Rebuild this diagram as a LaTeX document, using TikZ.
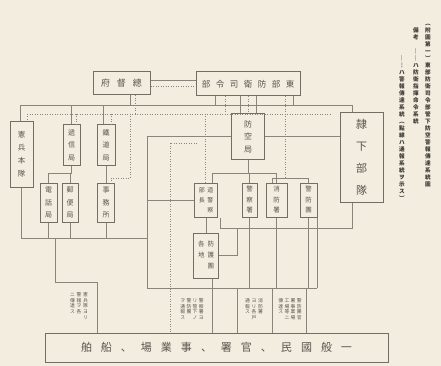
\documentclass[tikz,border=0pt]{standalone}
\usepackage{fontspec}
\newfontfamily\jp{Noto Sans CJK JP}
\usetikzlibrary{calc}
\definecolor{bg}{RGB}{242,237,223}
\definecolor{ln}{RGB}{138,133,122}
\definecolor{bx}{RGB}{115,110,100}
\definecolor{tx}{RGB}{90,85,78}
\definecolor{cp}{RGB}{60,57,52}
\makeatletter
\newcommand\hsp[2]{\def\hs@f{1}\@tfor\hs@c:=#2\do{\ifx\hs@f\@empty\kern#1\fi\let\hs@f\@empty\hs@c}}
\newcommand\vstk[2]{\vtop{\offinterlineskip\def\vs@f{1}\@tfor\vs@c:=#2\do{\ifx\vs@f\@empty\vskip#1\fi\let\vs@f\@empty\hbox to1em{\vrule height.88em depth.12em width0pt\hss\vs@c\hss}}}}
\makeatother
\tikzset{
  box/.style={draw=bx, line width=1pt, fill=bg, inner sep=0pt, text=tx},
  ln1/.style={draw=ln, line width=0.8pt},
  dt/.style={draw=ln, line width=0.8pt, dash pattern=on 1pt off 1.5pt},
  smalltxt/.style={inner sep=0pt, text=tx, font=\jp\fontsize{4.8}{4.8}\selectfont},
  captxt/.style={inner sep=0pt, text=cp, anchor=north, font=\jp\bfseries\fontsize{5.6}{5.6}\selectfont}
}
\begin{document}
\begin{tikzpicture}[x=1pt,y=-1pt,font=\jp]
\fill[bg] (0,0) rectangle (441,366);
\useasboundingbox (0,0) rectangle (441,366);

% boxes
\node[box, minimum width=57pt, minimum height=23pt] (sotoku) at (121.5,83.5) {\fontsize{9}{9}\selectfont\hsp{7pt}{府督總}};
\node[box, minimum width=104pt, minimum height=24pt] (hq) at (248,84) {\fontsize{8.5}{8.5}\selectfont\hsp{5.5pt}{部令司衛防部東}};
\node[box, minimum width=23pt, minimum height=65pt] (kenpei) at (21.5,154.5) {\fontsize{7.5}{7.5}\selectfont\vstk{5.5pt}{憲兵本隊}};
\node[box, minimum width=17pt, minimum height=40pt] (teishin) at (71.5,145) {\fontsize{7}{7}\selectfont\vstk{5.5pt}{遞信局}};
\node[box, minimum width=18pt, minimum height=40pt] (tetsudo) at (106,145) {\fontsize{7}{7}\selectfont\vstk{5.5pt}{鐵道局}};
\node[box, minimum width=17pt, minimum height=39pt] (b4) at (48.5,202.5) {\fontsize{7}{7}\selectfont\vstk{5.5pt}{電話局}};
\node[box, minimum width=16pt, minimum height=39pt] (b5) at (70,202.5) {\fontsize{7}{7}\selectfont\vstk{5.5pt}{郵便局}};
\node[box, minimum width=17pt, minimum height=39pt] (b6) at (106,202.5) {\fontsize{7}{7}\selectfont\vstk{5.5pt}{事務所}};
\node[box, minimum width=33pt, minimum height=46pt] (boku) at (248,136.5) {\fontsize{8}{8}\selectfont\vstk{4.5pt}{防空局}};
\node[box, minimum width=43pt, minimum height=89pt] (reika) at (361.5,157.5) {\fontsize{11}{11}\selectfont\vstk{11pt}{隷下部隊}};
\node[box, minimum width=23pt, minimum height=34pt] (bA) at (206,200) {\fontsize{6}{6}\selectfont\hbox{\vstk{4pt}{部長}\kern2.5pt\vstk{4pt}{道警察}}};
\node[box, minimum width=25pt, minimum height=45pt] (bB) at (206,255.5) {\fontsize{6.5}{6.5}\selectfont\hbox{\vstk{4.5pt}{各地}\kern3pt\vstk{4.5pt}{防護團}}};
\node[box, minimum width=15pt, minimum height=34pt] (bC) at (249.5,200) {\fontsize{6.5}{6.5}\selectfont\vstk{4pt}{警察署}};
\node[box, minimum width=21pt, minimum height=34pt] (bD) at (276.5,200) {\fontsize{6.5}{6.5}\selectfont\vstk{4pt}{消防署}};
\node[box, minimum width=17pt, minimum height=34pt] (bE) at (308.5,200) {\fontsize{6.5}{6.5}\selectfont\vstk{4pt}{警防團}};
\node[box, minimum width=343pt, minimum height=29pt] (bottom) at (216.5,347.5) {\fontsize{11}{11}\selectfont\hsp{9pt}{舶船、場業事、署官、民國般一}};

% small notes
\node[smalltxt] (t1) at (79,306) {\hbox{\vstk{0.8pt}{ニ傳達ス}\kern1.6pt\vstk{0.8pt}{警報ヲ各}\kern1.6pt\vstk{0.8pt}{憲兵隊ヨリ}}};
\node[smalltxt] (t2) at (192,309) {\hbox{\vstk{0.8pt}{ヲ通報ス}\kern1.4pt\vstk{0.8pt}{警防團}\kern1.4pt\vstk{0.8pt}{リ管下ノ}\kern1.4pt\vstk{0.8pt}{警察署ヨ}}};
\node[smalltxt] (t3) at (254,309) {\hbox{\vstk{0.8pt}{通報ス}\kern1.6pt\vstk{0.8pt}{ヨリ各戸}\kern1.6pt\vstk{0.8pt}{消防署}}};
\node[smalltxt] (t4) at (290,309) {\hbox{\vstk{0.8pt}{傳達ス}\kern1.4pt\vstk{0.8pt}{工場等ニ}\kern1.4pt\vstk{0.8pt}{署事業場}\kern1.4pt\vstk{0.8pt}{警防團官}}};

% caption
\node[captxt] (cap1) at (428,20) {\vstk{1.4pt}{︵附圖第一︶東部防衛司令部管下防空警報傳達系統圖}};
\node[captxt] (cap2) at (416,27) {\vstk{1.4pt}{備考　｜｜ハ防衛指揮命令系統}};
\node[captxt] (cap3) at (402,55) {\vstk{1.4pt}{｜︙ハ警報傳達系統︵點線ハ通報系統ヲ示ス︶}};

% helper coordinates
\coordinate (S1L) at (20,105); \coordinate (S1R) at (352,105);
\coordinate (D1L) at (27,114); \coordinate (D1R) at (332,114);
\foreach \x in {55,76,97,103,111,130,147,170,197,205,212,220,237,272,285,306,316,317,352} {\coordinate (x\x) at (\x,0);}
\foreach \y in {143,173,178,228,238,282,288} {\coordinate (y\y) at (0,\y);}

% top connections
\draw[ln1] ($(sotoku.east)+(0,-3)$) -- ($(hq.west |- sotoku.east)+(0,-3)$);
\draw[dt] ($(sotoku.east)+(0,3)$) -- ($(hq.west |- sotoku.east)+(0,3)$);
\draw[ln1] ($(sotoku.south)+(8.5,0)$) -- ++(0,10);
\draw[dt] ($(sotoku.south)+(14,0)$) -- ++(0,19);
\draw[ln1] (S1L) -- (S1R);
\draw[dt] (D1L) -- (D1R);
\draw[ln1] ($(hq.south)+(-33,0)$) -- ++(0,9);
\draw[dt] ($(hq.south)+(-23,0)$) -- ++(0,18);
\draw[ln1] ($(hq.south)+(-8,0)$) -- ($(boku.north)+(-8,0)$);
\draw[dt] (hq.south) -- (boku.north);
\draw[ln1] ($(hq.south)+(8,0)$) -- ($(boku.north)+(8,0)$);
\draw[dt] ($(hq.south)+(37,0)$) -- ++(0,18);
\draw[ln1] ($(hq.south)+(45,0)$) -- ++(0,9);

% drops from buses
\draw[ln1] (S1L) -- (S1L |- kenpei.north);
\draw[dt] (D1L) -- (D1L |- kenpei.north);
\draw[ln1] (teishin.north |- S1L) -- (teishin.north);
\draw[dt] (x76 |- D1L) -- (x76 |- teishin.north);
\draw[ln1] (x103 |- S1L) -- (x103 |- tetsudo.north);
\draw[dt] (x111 |- D1L) -- (x111 |- tetsudo.north);
\draw[ln1] (S1R) -- (S1R |- reika.north);

% left middle
\draw[ln1] (teishin.south) -- (teishin.south |- y173);
\draw[ln1] (b4.north) |- (teishin.south |- y173);
\draw[ln1] (b5.north) -- (b5.north |- y173);
\draw[ln1] (tetsudo.south) -- (b6.north);
\draw[dt] (x130 |- D1L) |- (x111 |- y178) -- (x111 |- b6.north);
\draw[ln1] (kenpei.south) |- (x147 |- y238);
\draw[ln1] (b4.south) -- (b4.south |- y238);
\draw[ln1] (b5.south) -- (b5.south |- y238);
\draw[ln1] (b6.south) -- (b6.south |- y238);
\draw[ln1] (x55 |- y238) |- (x97 |- y282) -- (x97 |- bottom.north);

% x147 trunk and lower bus
\draw[ln1] (boku.west) -- (x147 |- boku.west) -- (x147 |- y288) -- (x317 |- y288);
\draw[ln1] (x147 |- bA.west) -- (bA.west);
\draw[dt] (x197 |- y143) -- (x170 |- y143) -- (x170 |- bottom.north);
\draw[dt] (x205 |- D1L) -- (x205 |- bA.north);

% centre
\draw[ln1] (boku.east) -- (boku.east -| reika.west);
\draw[ln1] (boku.south) -- (boku.south |- y173);
\draw[ln1] (x212 |- bA.north) |- (bD.north |- y173);
\draw[ln1] (bC.north) -- (bC.north |- y173);
\draw[ln1] (bD.north) -- (bD.north |- y173);
\draw[ln1] (x272 |- bD.north) |- (bE.north |- y178) -- (bE.north);
\draw[dt] (x285 |- D1L) -- (x285 |- y178);
\draw[ln1] (bA.south) -- (bB.north);
\draw[ln1] (bB.east) -- (x237 |- bB.east) -- (x237 |- y228);
\draw[ln1] (x220 |- y228) -- (x352 |- y228) -- (x352 |- reika.south);
\draw[ln1] (x220 |- bA.south) -- (x220 |- y228);
\draw[ln1] (x212 |- bB.south) -- (x212 |- bottom.north);
\draw[ln1] (bC.south) -- (bC.south |- y288);
\draw[ln1] (bD.south) -- (bD.south |- y288);
\draw[ln1] (bE.south) -- (bE.south |- y288);
\draw[ln1] (x317 |- bE.south) -- (x317 |- y288);
\draw[ln1] (x237 |- y288) -- (x237 |- bottom.north);
\draw[ln1] (x272 |- y288) -- (x272 |- bottom.north);
\draw[ln1] (x306 |- y288) -- (x306 |- bottom.north);
\end{tikzpicture}
\end{document}
